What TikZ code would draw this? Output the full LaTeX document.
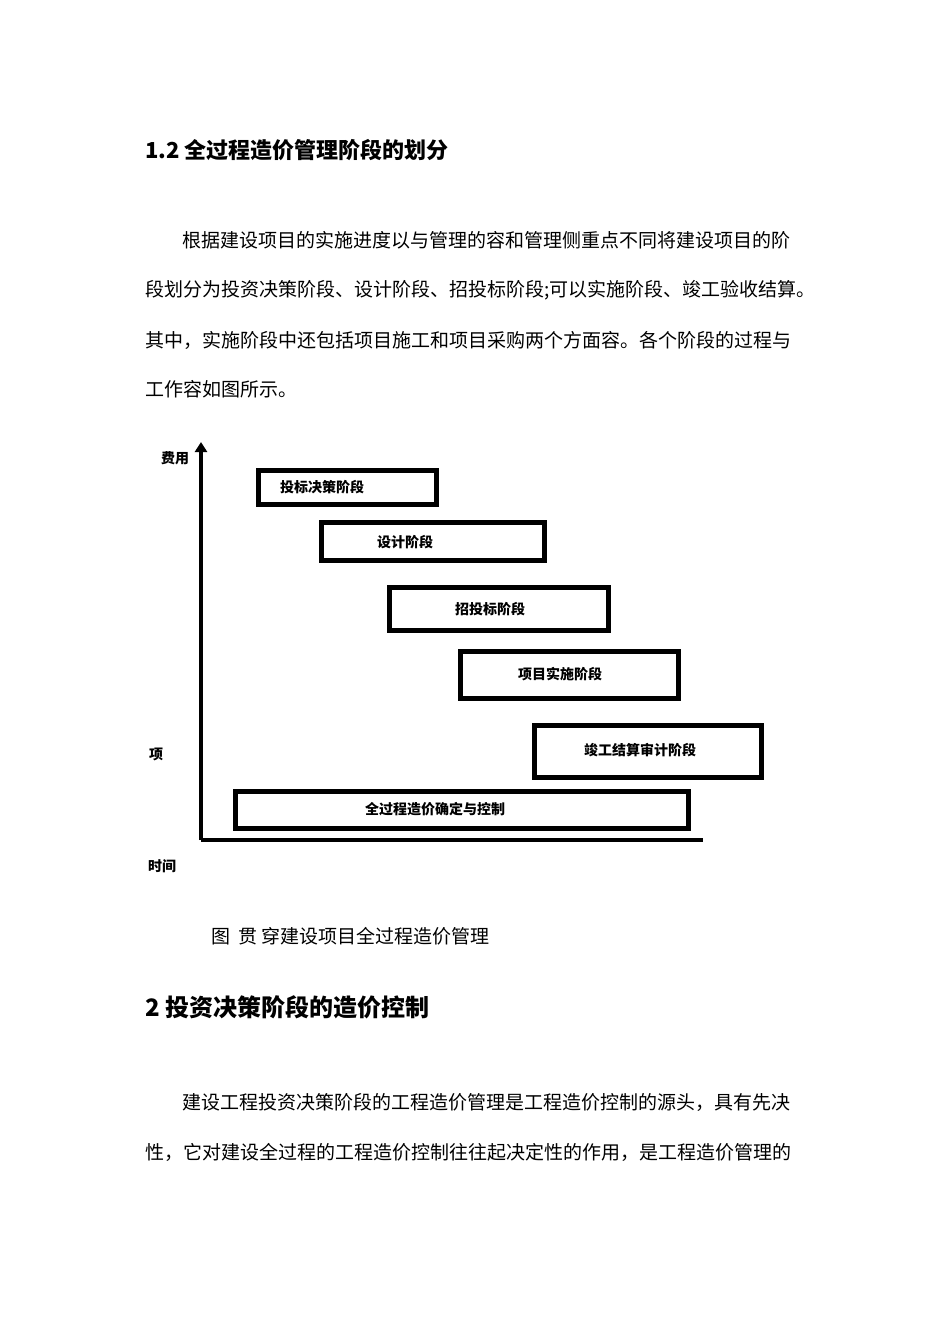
\documentclass[tikz,border=0pt]{standalone}
\usepackage{fontspec}
\setmainfont{Noto Sans CJK SC}
\newfontfamily\cjkb[BoldFont={Noto Sans CJK SC Bold}]{Noto Sans CJK SC}
\usetikzlibrary{arrows.meta}
\tikzset{
 txt/.style={anchor=west,inner sep=0pt,font=\fontsize{19}{22}\selectfont},
 head/.style={anchor=west,inner sep=0pt,font=\fontsize{22}{26}\selectfont\bfseries},
 lab/.style={inner sep=0pt,font=\fontsize{14}{16}\selectfont\bfseries},
 stage/.style={draw,line width=5pt,inner sep=0pt},
 axis/.style={line width=3.5pt}
}
\begin{document}
\begin{tikzpicture}[x=1pt,y=-1pt]
\useasboundingbox[fill=white] (0,0) rectangle (950,1344);
\node[head] (h1) at (145,150) {1.2 全过程造价管理阶段的划分};
\node[txt] (p1) at (182,240) {根据建设项目的实施进度以与管理的容和管理侧重点不同将建设项目的阶};
\node[txt] (p2) at (145,290) {段划分为投资决策阶段、设计阶段、招投标阶段;可以实施阶段、竣工验收结算。};
\node[txt] (p3) at (145,340) {其中，实施阶段中还包括项目施工和项目采购两个方面容。各个阶段的过程与};
\node[txt] (p4) at (145,389) {工作容如图所示。};

\coordinate (o) at (201,840);
\coordinate (yt) at (201,442);
\coordinate (xe) at (703,840);
\draw[axis,-{Triangle[length=10pt,width=12pt]}] (o) -- (yt);
\draw[axis] (o) -- (xe);
\node[lab] (fy) at (175,458) {费用};
\node[lab] (xm) at (156,754) {项};
\node[lab] (sj) at (162,866) {时间};

\draw[stage] (258,470) rectangle (436,504);
\node[lab] (s1) at (322,487) {投标决策阶段};
\draw[stage] (321,522) rectangle (544,560);
\node[lab] (s2) at (405,542) {设计阶段};
\draw[stage] (389,587) rectangle (608,630);
\node[lab] (s3) at (490,609) {招投标阶段};
\draw[stage] (460,651) rectangle (678,698);
\node[lab] (s4) at (560,674) {项目实施阶段};
\draw[stage] (534,725) rectangle (761,777);
\node[lab] (s5) at (640,750) {竣工结算审计阶段};
\draw[stage] (235,791) rectangle (688,828);
\node[lab] (s6) at (435,809) {全过程造价确定与控制};

\node[txt] (cap) at (211,936) {图\ \ 贯\ 穿建设项目全过程造价管理};
\node[head,font=\fontsize{24}{28}\selectfont\bfseries] (h2) at (145,1007) {2 投资决策阶段的造价控制};
\node[txt] (q1) at (182,1102) {建设工程投资决策阶段的工程造价管理是工程造价控制的源头，具有先决};
\node[txt] (q2) at (145,1152) {性，它对建设全过程的工程造价控制往往起决定性的作用，是工程造价管理的};
\end{tikzpicture}
\end{document}
